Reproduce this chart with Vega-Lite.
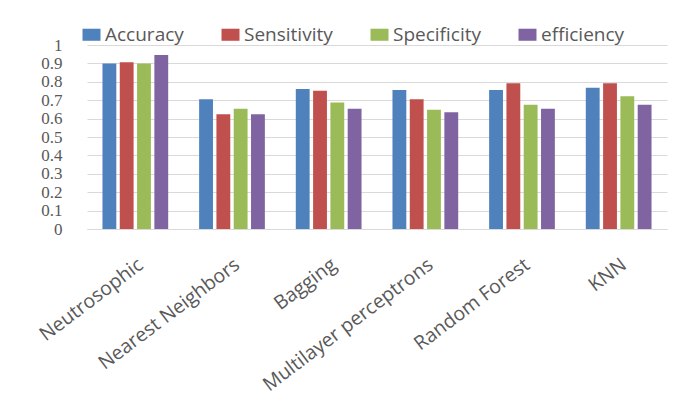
{
  "$schema": "https://vega.github.io/schema/vega-lite/v6.json",
  "width": 580,
  "height": 184,
  "autosize": "none",
  "padding": {"left": 87, "top": 45, "right": 13, "bottom": 184},
  "background": "white",
  "data": {
    "values": [
      {"model": "Neutrosophic", "metric": "Accuracy", "value": 0.90},
      {"model": "Neutrosophic", "metric": "Sensitivity", "value": 0.906},
      {"model": "Neutrosophic", "metric": "Specificity", "value": 0.90},
      {"model": "Neutrosophic", "metric": "efficiency", "value": 0.946},
      {"model": "Nearest Neighbors", "metric": "Accuracy", "value": 0.705},
      {"model": "Nearest Neighbors", "metric": "Sensitivity", "value": 0.624},
      {"model": "Nearest Neighbors", "metric": "Specificity", "value": 0.653},
      {"model": "Nearest Neighbors", "metric": "efficiency", "value": 0.624},
      {"model": "Bagging", "metric": "Accuracy", "value": 0.761},
      {"model": "Bagging", "metric": "Sensitivity", "value": 0.752},
      {"model": "Bagging", "metric": "Specificity", "value": 0.687},
      {"model": "Bagging", "metric": "efficiency", "value": 0.653},
      {"model": "Multilayer perceptrons", "metric": "Accuracy", "value": 0.756},
      {"model": "Multilayer perceptrons", "metric": "Sensitivity", "value": 0.705},
      {"model": "Multilayer perceptrons", "metric": "Specificity", "value": 0.648},
      {"model": "Multilayer perceptrons", "metric": "efficiency", "value": 0.635},
      {"model": "Random Forest", "metric": "Accuracy", "value": 0.756},
      {"model": "Random Forest", "metric": "Sensitivity", "value": 0.792},
      {"model": "Random Forest", "metric": "Specificity", "value": 0.675},
      {"model": "Random Forest", "metric": "efficiency", "value": 0.653},
      {"model": "KNN", "metric": "Accuracy", "value": 0.768},
      {"model": "KNN", "metric": "Sensitivity", "value": 0.792},
      {"model": "KNN", "metric": "Specificity", "value": 0.722},
      {"model": "KNN", "metric": "efficiency", "value": 0.675}
    ]
  },
  "mark": {"type": "bar"},
  "encoding": {
    "x": {
      "field": "model",
      "type": "nominal",
      "sort": null,
      "title": null,
      "scale": {"paddingInner": 0.32, "paddingOuter": 0.16},
      "axis": {
        "domain": true,
        "domainColor": "#d9d9d9",
        "domainWidth": 1,
        "ticks": false,
        "grid": false,
        "labelAngle": -37,
        "labelAlign": "right",
        "labelBaseline": "top",
        "labelPadding": 26,
        "labelFont": "Open Sans",
        "labelFontSize": 19.5,
        "labelColor": "#595959",
        "labelLimit": 300,
        "labelOverlap": false
      }
    },
    "xOffset": {
      "field": "metric",
      "sort": ["Accuracy", "Sensitivity", "Specificity", "efficiency"],
      "scale": {"paddingInner": 0.2}
    },
    "y": {
      "field": "value",
      "type": "quantitative",
      "title": null,
      "scale": {"domain": [0, 1]},
      "axis": {
        "values": [0, 0.1, 0.2, 0.3, 0.4, 0.5, 0.6, 0.7, 0.8, 0.9, 1],
        "format": ".1~f",
        "domain": false,
        "ticks": false,
        "grid": true,
        "gridColor": "#d9d9d9",
        "gridWidth": 1,
        "labelFont": "Liberation Serif",
        "labelFontSize": 17,
        "labelColor": "#595959",
        "labelPadding": 25,
        "labelOverlap": false,
        "labelFlush": false
      }
    },
    "color": {
      "field": "metric",
      "type": "nominal",
      "sort": ["Accuracy", "Sensitivity", "Specificity", "efficiency"],
      "scale": {
        "domain": ["Accuracy", "Sensitivity", "Specificity", "efficiency"],
        "range": ["#4F81BD", "#C0504D", "#9BBB59", "#8064A2"]
      },
      "legend": {
        "title": null,
        "orient": "none",
        "legendX": -5,
        "legendY": -20,
        "direction": "horizontal",
        "symbolType": "M-1,-0.67H1V0.67H-1Z",
        "symbolSize": 324,
        "symbolStrokeWidth": 0,
        "labelFont": "Open Sans",
        "labelFontSize": 19,
        "labelColor": "#595959",
        "labelOffset": 4,
        "columnPadding": 37
      }
    }
  },
  "config": {"view": {"stroke": null}}
}
